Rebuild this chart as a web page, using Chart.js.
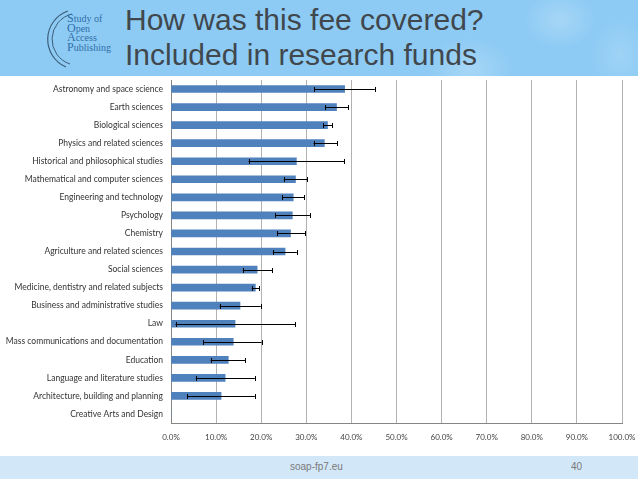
<!DOCTYPE html>
<html>
<head>
<meta charset="utf-8">
<script src="https://cdn.jsdelivr.net/npm/chart.js@4"></script>
<style>
  html, body { margin: 0; padding: 0; background: #fff; }
  #slide { position: relative; width: 638px; height: 479px; overflow: hidden; background: #fff; }
  #header {
    position: absolute; left: 0; top: 0; width: 638px; height: 76px;
    background:
      radial-gradient(ellipse 60px 45px at 470px 70px, rgba(255,255,255,0.22), rgba(255,255,255,0) 70%),
      radial-gradient(ellipse 50px 40px at 560px 20px, rgba(255,255,255,0.22), rgba(255,255,255,0) 70%),
      radial-gradient(ellipse 40px 50px at 620px 55px, rgba(255,255,255,0.15), rgba(255,255,255,0) 70%),
      #8ecbf4;
  }
  #title {
    position: absolute; left: 125px; top: 2px; margin: 0;
    font-family: "Liberation Sans", Arial, sans-serif; font-weight: normal;
    font-size: 30px; line-height: 35px; color: #40474d;
  }
  #logo { position: absolute; left: 40px; top: 8px; }
  #footer {
    position: absolute; left: 0; top: 456px; width: 638px; height: 23px;
    background: #d2e7f7;
    font-family: "Liberation Sans", Arial, sans-serif; font-size: 10px; color: #7a7a7a;
  }
  #footer span { position: absolute; top: 5px; }
  #chartBox { position: absolute; left: 0; top: 78px; width: 638px; height: 377px; }
</style>
</head>
<body>
<div id="slide">
  <div id="header">
    <svg id="logo" width="84" height="64" viewBox="0 0 84 64">
      <path d="M28 3 A30 30 0 0 0 26 59" fill="none" stroke="#3d5e7a" stroke-width="1.2"/>
      <path d="M32 6 A26 26 0 0 0 30 56" fill="none" stroke="#3d5e7a" stroke-width="1"/>
      <g font-family="Liberation Serif, DejaVu Serif, serif" fill="#2f6ea8">
        <text x="27" y="14" font-size="12">S<tspan font-size="10">tudy of</tspan></text>
        <text x="27" y="24" font-size="12">O<tspan font-size="10">pen</tspan></text>
        <text x="27" y="33" font-size="12">A<tspan font-size="10">ccess</tspan></text>
        <text x="27" y="43" font-size="12">P<tspan font-size="10">ublishing</tspan></text>
      </g>
    </svg>
    <h1 id="title">How was this fee covered?<br>Included in research funds</h1>
  </div>
  <div id="chartBox"><canvas id="chart"></canvas></div>
  <div id="footer">
    <span style="left:290px">soap-fp7.eu</span>
    <span style="left:571px">40</span>
  </div>
</div>
<script>
const categories = [
  'Astronomy and space science',
  'Earth sciences',
  'Biological sciences',
  'Physics and related sciences',
  'Historical and philosophical studies',
  'Mathematical and computer sciences',
  'Engineering and technology',
  'Psychology',
  'Chemistry',
  'Agriculture and related sciences',
  'Social sciences',
  'Medicine, dentistry and related subjects',
  'Business and administrative studies',
  'Law',
  'Mass communications and documentation',
  'Education',
  'Language and literature studies',
  'Architecture, building and planning',
  'Creative Arts and Design'
]
const values  = [38.5, 36.7, 34.7, 34.0, 27.8, 27.6, 27.1, 26.9, 26.5, 25.3, 19.1, 18.7, 15.3, 14.2, 13.8, 12.7, 12.0, 11.1, 0]
const errLow  = [31.7, 34.2, 33.8, 31.6, 17.2, 25.0, 24.7, 23.1, 23.5, 22.6, 15.9, 17.9, 10.8, 1.0, 7.2, 8.8, 5.5, 3.6, null]
const errHigh = [45.2, 39.3, 35.7, 36.8, 38.4, 30.2, 29.5, 30.8, 29.7, 27.9, 22.4, 19.6, 19.9, 27.5, 20.1, 16.4, 18.6, 18.6, null]
const xTicks = [0, 10, 20, 30, 40, 50, 60, 70, 80, 90, 100]

const errorBars = {
  id: 'errorBars',
  afterDatasetsDraw(chart) {
    const { ctx, scales: { x } } = chart
    const meta = chart.getDatasetMeta(0)
    ctx.save()
    ctx.strokeStyle = '#000'
    ctx.lineWidth = 1
    meta.data.forEach((bar, i) => {
      if (errLow[i] == null) return
      const y = Math.round(bar.y) + 0.5
      const x1 = x.getPixelForValue(errLow[i])
      const x2 = x.getPixelForValue(errHigh[i])
      ctx.beginPath()
      ctx.moveTo(x1, y); ctx.lineTo(x2, y)
      ctx.moveTo(Math.round(x1) + 0.5, y - 2.5); ctx.lineTo(Math.round(x1) + 0.5, y + 2.5)
      ctx.moveTo(Math.round(x2) + 0.5, y - 2.5); ctx.lineTo(Math.round(x2) + 0.5, y + 2.5)
      ctx.stroke()
    })
    ctx.restore()
  }
}

new Chart(document.getElementById('chart'), {
  type: 'bar',
  data: {
    labels: categories,
    datasets: [{ data: values, backgroundColor: '#4f81bd', barThickness: 7 }]
  },
  options: {
    indexAxis: 'y',
    responsive: true,
    maintainAspectRatio: false,
    animation: false,
    layout: { padding: { left: 0, right: 16, top: 2, bottom: 0 } },
    plugins: { legend: { display: false }, tooltip: { enabled: false } },
    scales: {
      x: {
        min: 0, max: 100,
        afterBuildTicks: s => { s.ticks = xTicks.map(v => ({ value: v })) },
        afterFit: s => { s.height = 32; s.paddingLeft = 0; s.paddingRight = 0 },
        ticks: { padding: 10, color: '#444', font: { family: 'Lato', size: 8 }, callback: v => v.toFixed(1) + '%' },
        grid: { color: '#b2b2b2', drawTicks: false },
        border: { color: '#868686' }
      },
      y: {
        afterFit: s => { s.width = 171; s.paddingTop = 0; s.paddingBottom = 0 },
        ticks: { padding: 8, color: '#333', font: { family: 'Lato', size: 8.5 }, autoSkip: false },
        grid: { display: false, drawTicks: false },
        border: { color: '#868686' }
      }
    }
  },
  plugins: [errorBars]
})
</script>
</body>
</html>
